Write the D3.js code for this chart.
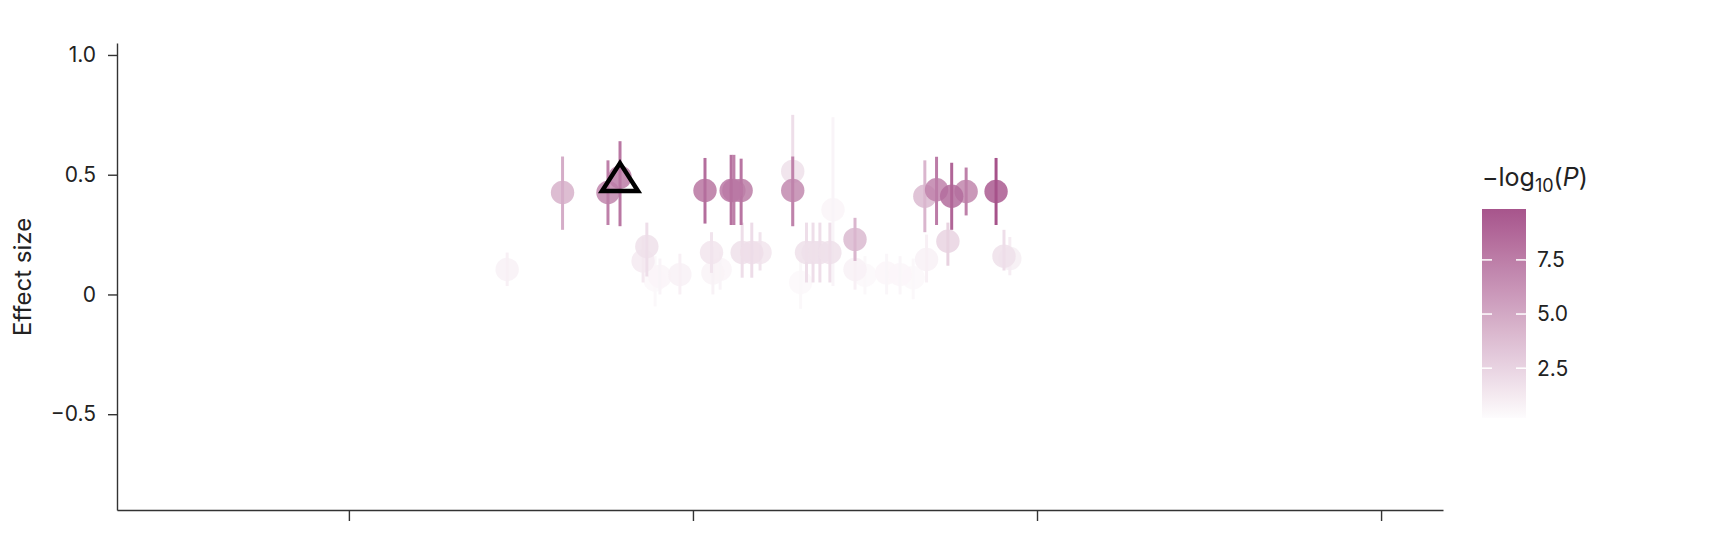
<!DOCTYPE html>
<html>
<head>
<meta charset="utf-8">
<script src="https://cdn.jsdelivr.net/npm/d3@7"></script>
<style>
  body { margin: 0; background: #fff; }
  text { font-family: Inter, "Noto Sans", sans-serif; fill: #222; }
</style>
</head>
<body>
<div id="chart"></div>
<script>
// position along the x axis (unlabelled), effect size, CI and -log10(P)
var positions = [1.621, 1.753, 1.788, 2.035, 2.111, 2.119, 2.140, 2.290, 2.290, 2.407,
                 2.471, 2.674, 2.708, 2.752, 2.794, 2.881,
                 1.460, 1.866, 1.855, 1.904, 1.962, 2.054, 2.058, 2.079, 2.143, 2.171,
                 2.195, 2.330, 2.349, 2.369, 2.398, 2.471, 2.563, 2.602, 2.679, 2.741,
                 2.904, 2.921, 1.890, 2.313, 2.640, 2.500];
var effects   = [0.426, 0.426, 0.49, 0.434, 0.434, 0.434, 0.434, 0.434, 0.514, 0.354,
                 0.23, 0.41, 0.437, 0.41, 0.43, 0.43,
                 0.104, 0.20, 0.14, 0.075, 0.083, 0.175, 0.09, 0.104, 0.175, 0.175,
                 0.175, 0.175, 0.175, 0.175, 0.175, 0.104, 0.09, 0.083, 0.146, 0.222,
                 0.16, 0.15, 0.06, 0.05, 0.07, 0.08];
var ciLow     = [0.27, 0.29, 0.285, 0.296, 0.29, 0.29, 0.29, 0.285, 0.285, 0.035,
                 0.14, 0.26, 0.29, 0.27, 0.33, 0.29,
                 0.035, 0.075, 0.05, 0.0, 0.0, 0.09, 0.0, 0.02, 0.07, 0.07,
                 0.10, 0.05, 0.05, 0.05, 0.05, 0.02, 0.0, 0.0, 0.05, 0.12,
                 0.10, 0.08, -0.05, -0.06, -0.02, 0.0];
var ciHigh    = [0.576, 0.56, 0.64, 0.57, 0.583, 0.583, 0.567, 0.576, 0.75, 0.74,
                 0.32, 0.56, 0.575, 0.55, 0.53, 0.57,
                 0.175, 0.30, 0.24, 0.15, 0.17, 0.26, 0.20, 0.18, 0.30, 0.30,
                 0.26, 0.30, 0.30, 0.30, 0.30, 0.18, 0.17, 0.16, 0.25, 0.30,
                 0.27, 0.24, 0.16, 0.15, 0.15, 0.16];
var nlogP     = [4.5, 7.0, 7.5, 8.0, 7.8, 7.0, 7.6, 6.8, 1.8, 0.6,
                 4.0, 4.0, 7.2, 8.5, 7.0, 9.5,
                 0.8, 1.8, 1.2, 0.6, 0.8, 1.5, 0.7, 0.6, 1.8, 1.9,
                 1.5, 1.8, 1.8, 1.8, 1.8, 0.8, 0.5, 0.5, 0.8, 2.5,
                 1.8, 1.0, 0.4, 0.4, 0.4, 0.4];
var highlightIndex = 2;

var xTicks = [1, 2, 3, 4];
var yTicks = [-0.5, 0, 0.5, 1.0];
var legendTicks = [2.5, 5.0, 7.5];

var width = 1710, height = 546;
var svg = d3.select("#chart").append("svg")
	.attr("width", width)
	.attr("height", height);

var xScale = d3.scaleLinear().domain([0.326, 4.18]).range([117, 1443]);
var yScale = d3.scaleLinear().domain([-0.9, 1.05]).range([510, 43]);
var colorScale = d3.scaleLinear().domain([0, 10]).range(["#ffffff", "#a6528a"]).interpolate(d3.interpolateRgb);

// axes
var yAxis = d3.axisLeft(yScale).tickValues(yTicks).tickSize(9).tickSizeOuter(0).tickPadding(12)
	.tickFormat(function(d){
		if (d == 0) return "0";
		return d3.format(".1f")(d).replace("-", "\u2212");
	});
var yG = svg.append("g").attr("transform", "translate(117,0)").call(yAxis);
yG.select(".domain").attr("stroke", "#333").attr("stroke-width", 1.4);
yG.selectAll(".tick line").attr("stroke", "#333").attr("stroke-width", 1.4);
yG.selectAll(".tick text").style("font-size", "21px").attr("fill", "#222");

var xAxis = d3.axisBottom(xScale).tickValues(xTicks).tickSize(11).tickSizeOuter(0).tickFormat("");
var xG = svg.append("g").attr("transform", "translate(0,510)").call(xAxis);
xG.select(".domain").attr("stroke", "#333").attr("stroke-width", 1.4);
xG.selectAll(".tick line").attr("stroke", "#333").attr("stroke-width", 1.4);

svg.append("text")
	.text("Effect size")
	.attr("transform", "translate(31,277) rotate(-90)")
	.attr("text-anchor", "middle")
	.style("font-size", "24px");

// points, drawn faint first
var order = d3.range(positions.length).sort(function(a, b){ return nlogP[a] - nlogP[b]; });
var pts = svg.append("g").selectAll(".pt")
	.data(order).enter()
	.append("g").attr("class", "pt");
pts.append("circle")
	.attr("cx", function(i){ return xScale(positions[i]); })
	.attr("cy", function(i){ return yScale(effects[i]); })
	.attr("r", 11.7)
	.attr("fill", function(i){ return colorScale(nlogP[i]); })
	.attr("fill-opacity", 0.85);
pts.append("line")
	.attr("x1", function(i){ return xScale(positions[i]); })
	.attr("x2", function(i){ return xScale(positions[i]); })
	.attr("y1", function(i){ return yScale(ciLow[i]); })
	.attr("y2", function(i){ return yScale(ciHigh[i]); })
	.attr("stroke", function(i){ return colorScale(nlogP[i] * 1.05); })
	.attr("stroke-width", 3);

// highlighted variant
var hx = xScale(positions[highlightIndex]), hy = yScale(effects[highlightIndex]);
svg.append("path")
	.attr("d", d3.line()([[hx, hy - 14], [hx + 18, hy + 14], [hx - 18, hy + 14]]) + "Z")
	.attr("fill", "none")
	.attr("stroke", "#000")
	.attr("stroke-width", 4.5)
	.attr("stroke-linejoin", "miter");

// colour bar legend
var legScale = d3.scaleLinear().domain([0.2, 9.85]).range([418, 209]);
var defs = svg.append("defs");
var grad = defs.append("linearGradient")
	.attr("id", "cbar").attr("x1", 0).attr("y1", 1).attr("x2", 0).attr("y2", 0);
d3.range(0, 1.01, 0.1).forEach(function(t){
	var v = 0.2 + t * (9.85 - 0.2);
	grad.append("stop").attr("offset", t).attr("stop-color", colorScale(v));
});
svg.append("rect")
	.attr("x", 1482).attr("y", 209)
	.attr("width", 44).attr("height", 209)
	.attr("fill", "url(#cbar)");
var legG = svg.append("g");
legendTicks.forEach(function(t){
	var y = legScale(t);
	legG.append("line").attr("x1", 1482).attr("x2", 1492).attr("y1", y).attr("y2", y)
		.attr("stroke", "#fff").attr("stroke-width", 1.5);
	legG.append("line").attr("x1", 1516).attr("x2", 1526).attr("y1", y).attr("y2", y)
		.attr("stroke", "#fff").attr("stroke-width", 1.5);
	legG.append("text").text(d3.format(".1f")(t))
		.attr("x", 1537).attr("y", y).attr("dy", "0.35em")
		.style("font-size", "21px");
});
var title = svg.append("text").attr("x", 1482).attr("y", 186).style("font-size", "25px");
title.append("tspan").text("\u2212log");
title.append("tspan").text("10").attr("dy", 6).style("font-size", "18px");
title.append("tspan").text("(").attr("dy", -6);
title.append("tspan").text("P").style("font-style", "italic");
title.append("tspan").text(")");
</script>
</body>
</html>
